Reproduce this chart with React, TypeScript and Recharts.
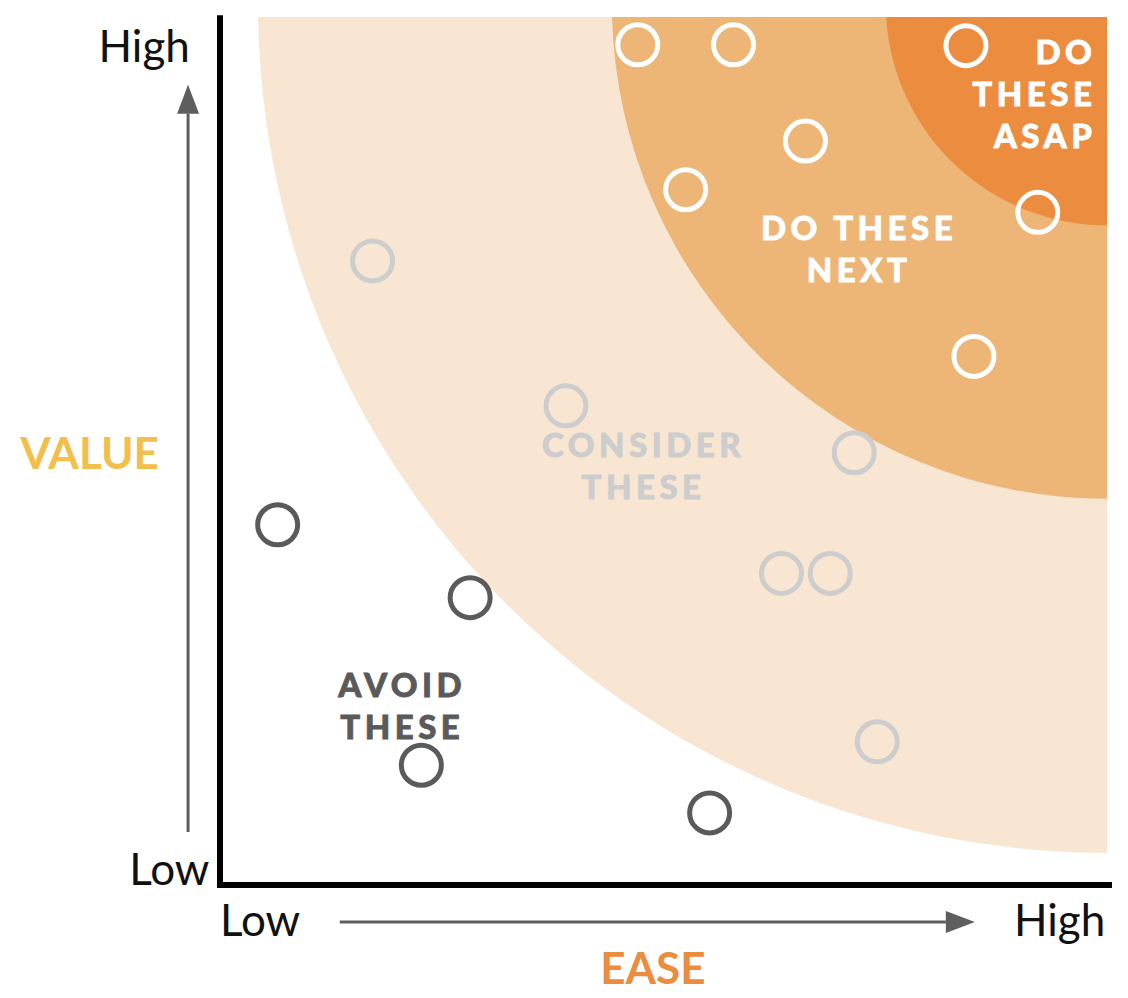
import React from "react"
import {
  ScatterChart,
  Scatter,
  XAxis,
  YAxis,
  ReferenceArea,
  ReferenceLine,
  ReferenceDot,
} from "recharts"

// ease (x) and value (y), both on a 0-100 scale
const doNowEase = [47.1, 57.9, 84.1, 66.0, 52.5, 92.2, 85.0]
const doNowValue = [96.8, 96.8, 96.7, 85.7, 80.1, 77.5, 60.9]
const considerEase = [17.2, 39.0, 71.5, 63.3, 68.8, 74.1]
const considerValue = [71.9, 55.2, 49.8, 35.9, 35.9, 16.5]
const avoidEase = [6.5, 28.2, 22.7, 55.2]
const avoidValue = [41.5, 33.1, 13.8, 8.3]

// zones reach out from the high/high corner
const zoneNames = ["consider", "next", "asap"]
const zoneEaseStart = [4.3, 44.2, 75.1]
const zoneValueStart = [3.7, 44.5, 76.0]
const zoneColors = ["#F8E6D2", "#EDB576", "#EC8C3F"]

const zoneLabels = [
  { lines: ["DO", "THESE", "ASAP"], ease: 98.8, value: 94.6, color: "#FFFFFF", anchor: "end" },
  { lines: ["DO THESE", "NEXT"], ease: 72.05, value: 74.3, color: "#FFFFFF", anchor: "middle" },
  { lines: ["CONSIDER", "THESE"], ease: 47.75, value: 49.3, color: "#CDCDCD", anchor: "middle" },
  { lines: ["AVOID", "THESE"], ease: 20.55, value: 21.7, color: "#5A5A5A", anchor: "middle" },
]

const axisTexts = [
  { text: "High", ease: -3.4, value: 94.8, anchor: "end", color: "#111111", weight: 400 },
  { text: "Low", ease: -1.2, value: 0, anchor: "end", color: "#111111", weight: 400 },
  { text: "Low", ease: 0, value: -5.9, anchor: "start", color: "#111111", weight: 400 },
  { text: "High", ease: 99.8, value: -5.9, anchor: "end", color: "#111111", weight: 400 },
  { text: "VALUE", ease: -14.7, value: 47.9, anchor: "middle", color: "#F2BF4C", weight: 700 },
  { text: "EASE", ease: 48.8, value: -11.4, anchor: "middle", color: "#EC8C3F", weight: 700 },
]

const toPoints = (xs: number[], ys: number[]) => xs.map((x, i) => ({ x, y: ys[i] }))

const FONT = "Lato, 'Open Sans', sans-serif"

// quarter disc hung from the top-right corner of the area rect
const zoneShape = (props: any) => {
  const { x, y, width: w, height: h, fill } = props
  const d = (w * w - h * h) / (2 * h)
  const r = h + d
  return (
    <path
      d={`M${x + w},${y} L${x},${y} A${r},${r} 0 0 0 ${x + w},${y + h} Z`}
      fill={fill}
    />
  )
}

const ringShape = (color: string) => (props: any) => (
  <circle cx={props.cx} cy={props.cy} r={20} fill="none" stroke={color} strokeWidth={5} />
)

const arrowShape = (props: any) => {
  const { x1, y1, x2, y2 } = props
  const len = Math.hypot(x2 - x1, y2 - y1)
  const ux = (x2 - x1) / len
  const uy = (y2 - y1) / len
  const head = 29
  const half = 11
  const bx = x2 - ux * head
  const by = y2 - uy * head
  return (
    <g>
      <line x1={x1} y1={y1} x2={bx} y2={by} stroke="#5E5E5E" strokeWidth={3} />
      <polygon
        points={`${x2},${y2} ${bx - uy * half},${by + ux * half} ${bx + uy * half},${by - ux * half}`}
        fill="#5E5E5E"
      />
    </g>
  )
}

const zoneLabelShape = (label: (typeof zoneLabels)[number]) => (props: any) => (
  <text
    x={props.cx}
    y={props.cy}
    textAnchor={label.anchor}
    fill={label.color}
    stroke={label.color}
    strokeWidth={0.8}
    fontFamily={FONT}
    fontWeight={900}
    fontSize={33}
    letterSpacing={4.5}
  >
    {label.lines.map((line, i) => (
      <tspan key={i} x={props.cx} dy={i === 0 ? 0 : 42}>
        {line}
      </tspan>
    ))}
  </text>
)

const axisTextShape = (t: (typeof axisTexts)[number]) => (props: any) => (
  <text
    x={props.cx}
    y={props.cy}
    textAnchor={t.anchor}
    fill={t.color}
    fontFamily={FONT}
    fontWeight={t.weight}
    fontSize={44}
  >
    {t.text}
  </text>
)

export default function App() {
  return (
    <div style={{ position: "absolute", left: 0, top: 0, width: 1128, height: 998, background: "#fff" }}>
      <ScatterChart
        width={1128}
        height={998}
        margin={{ top: 17, right: 21, bottom: 113, left: 220 }}
      >
        <XAxis type="number" dataKey="x" domain={[0, 100]} hide />
        <YAxis type="number" dataKey="y" domain={[0, 100]} hide />

        {zoneNames.map((name, i) => (
          <ReferenceArea
            key={name}
            x1={zoneEaseStart[i]}
            x2={100}
            y1={zoneValueStart[i]}
            y2={100}
            fill={zoneColors[i]}
            fillOpacity={1}
            shape={zoneShape}
          />
        ))}

        <ReferenceLine
          segment={[{ x: 0, y: -0.25 }, { x: 0, y: 100.2 }]}
          stroke="#000"
          strokeWidth={6}
          ifOverflow="visible"
        />
        <ReferenceLine
          segment={[{ x: -0.34, y: 0 }, { x: 100.56, y: 0 }]}
          stroke="#000"
          strokeWidth={6}
          ifOverflow="visible"
        />
        <ReferenceLine
          segment={[{ x: -3.6, y: 6.1 }, { x: -3.6, y: 92.2 }]}
          ifOverflow="visible"
          shape={arrowShape}
        />
        <ReferenceLine
          segment={[{ x: 13.5, y: -4.26 }, { x: 85.1, y: -4.26 }]}
          ifOverflow="visible"
          shape={arrowShape}
        />

        <Scatter data={toPoints(doNowEase, doNowValue)} shape={ringShape("#FFFFFF")} isAnimationActive={false} />
        <Scatter data={toPoints(considerEase, considerValue)} shape={ringShape("#CDCDCD")} isAnimationActive={false} />
        <Scatter data={toPoints(avoidEase, avoidValue)} shape={ringShape("#5A5A5A")} isAnimationActive={false} />

        {zoneLabels.map((label) => (
          <ReferenceDot
            key={label.lines.join(" ")}
            x={label.ease}
            y={label.value}
            r={0}
            ifOverflow="visible"
            shape={zoneLabelShape(label)}
          />
        ))}
        {axisTexts.map((t, i) => (
          <ReferenceDot
            key={i}
            x={t.ease}
            y={t.value}
            r={0}
            ifOverflow="visible"
            shape={axisTextShape(t)}
          />
        ))}
      </ScatterChart>
    </div>
  )
}
